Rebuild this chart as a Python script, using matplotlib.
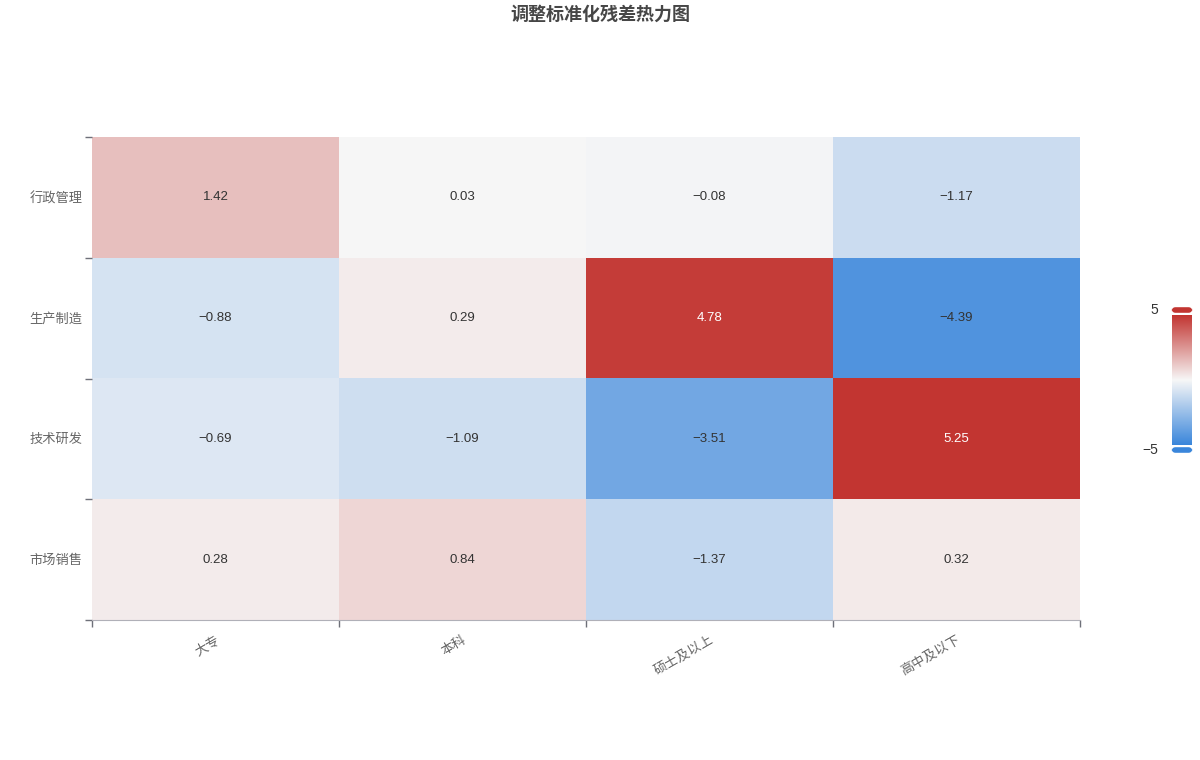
import numpy as np
import matplotlib
matplotlib.use('Agg')
import matplotlib.pyplot as plt
from matplotlib.colors import LinearSegmentedColormap, Normalize
from matplotlib.patches import FancyBboxPatch

plt.rcParams['font.family'] = ['Liberation Sans', 'Noto Sans CJK SC', 'DejaVu Sans']

rows = ['行政管理', '生产制造', '技术研发', '市场销售']
cols = ['大专', '本科', '硕士及以上', '高中及以下']
residuals = [
    [1.42, 0.03, -0.08, -1.17],
    [-0.88, 0.29, 4.78, -4.39],
    [-0.69, -1.09, -3.51, 5.25],
    [0.28, 0.84, -1.37, 0.32],
]
vmin, vmax = -5, 5

cmap = LinearSegmentedColormap.from_list('resid', ['#3a86db', '#f7f7f7', '#c23531'])
norm = Normalize(vmin=vmin, vmax=vmax, clip=True)

fig = plt.figure(figsize=(12, 7.6), dpi=100)
ax = fig.add_axes([92/1200, 1 - 620/760, (1080-92)/1200, (620-137)/760])

data = np.array(residuals)
ax.imshow(data, cmap=cmap, norm=norm, aspect='auto', interpolation='nearest',
          extent=(0, len(cols), len(rows), 0))

for i in range(len(rows)):
    for j in range(len(cols)):
        v = data[i, j]
        txt = '{:.2f}'.format(v).replace('-', '\u2212')
        col = 'white' if v > 4 else '#333333'
        ax.text(j + 0.5, i + 0.5, txt, ha='center', va='center', fontsize=9.5, color=col)

ax.set_xlim(0, len(cols))
ax.set_ylim(len(rows), 0)
ax.set_xticks(np.arange(len(cols) + 1))
ax.set_xticklabels([])
ax.set_yticks(np.arange(len(rows) + 1))
ax.set_yticklabels([])
ax.set_xticks(np.arange(len(cols)) + 0.5, minor=True)
ax.set_xticklabels(cols, minor=True, rotation=30, ha='right', rotation_mode='anchor',
                   fontsize=9.5, color='#666666')
ax.set_yticks(np.arange(len(rows)) + 0.5, minor=True)
ax.set_yticklabels(rows, minor=True, fontsize=9.5, color='#666666')
ax.tick_params(axis='both', which='minor', length=0)
ax.tick_params(axis='x', which='minor', pad=10)
ax.tick_params(axis='y', which='minor', pad=7)
ax.tick_params(axis='both', which='major', length=5, color='#6e7079', width=1)
for s in ['top', 'right', 'left']:
    ax.spines[s].set_visible(False)
ax.spines['bottom'].set_color('#b0b0b8')

fig.text(0.5, 1 - 15/760, '调整标准化残差热力图', ha='center', va='center',
         fontsize=13, fontweight='bold', color='#464646')

# visual map bar
cax = fig.add_axes([1172/1200, 1 - 445/760, 20/1200, (445-315)/760])
grad = np.linspace(vmax, vmin, 256).reshape(-1, 1)
cax.imshow(grad, cmap=cmap, norm=norm, aspect='auto', extent=(0, 1, 0, 1))
cax.set_xlim(0, 1)
cax.set_ylim(0, 1)
cax.axis('off')
for yc, v in [(310, vmax), (450, vmin)]:
    h = fig.add_axes([1169/1200, 1 - (yc + 4)/760, 26/1200, 8/760])
    h.axis('off')
    h.set_xlim(0, 1)
    h.set_ylim(0, 1)
    h.add_patch(FancyBboxPatch((0.1, 0.15), 0.8, 0.7, boxstyle='round,pad=0,rounding_size=0.15',
                               mutation_aspect=4, color=cmap(norm(v)), lw=0))
fig.text(1158/1200, 1 - 310/760, '5', ha='right', va='center', fontsize=10, color='#333333')
fig.text(1158/1200, 1 - 450/760, '\u22125', ha='right', va='center', fontsize=10, color='#333333')

fig.savefig('out.png', dpi=100)
